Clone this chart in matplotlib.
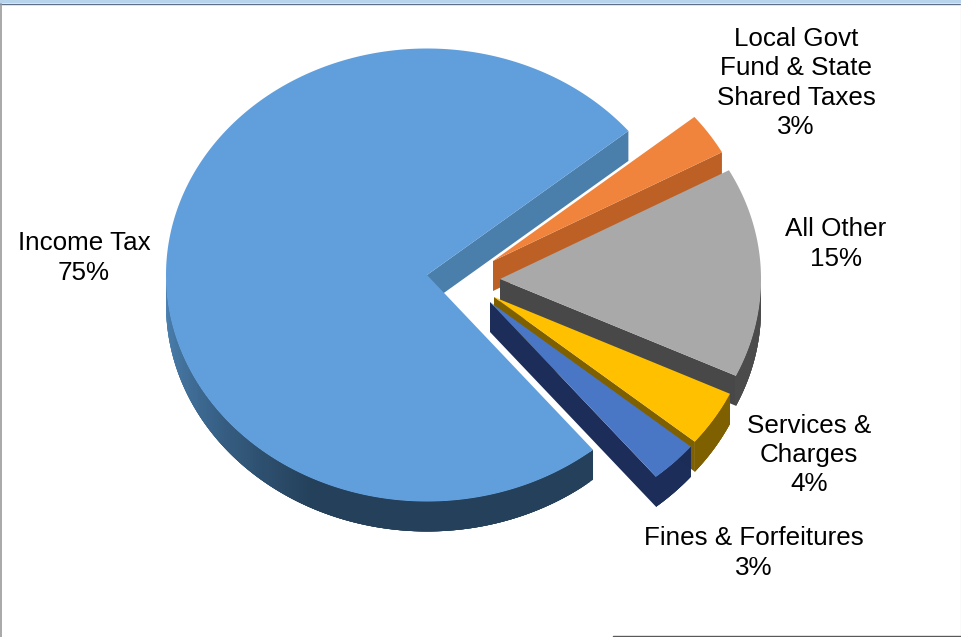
import numpy as np
import matplotlib.pyplot as plt
from matplotlib.colors import LinearSegmentedColormap
from matplotlib.patches import Polygon, Rectangle

plt.rcParams["font.family"] = "Liberation Sans"

labels = ["Income Tax", "Local Govt\nFund & State\nShared Taxes", "All Other", "Services &\nCharges", "Fines & Forfeitures"]
shares = [75, 3, 15, 4, 3]

top_colors = ["#619fdc", "#f0843c", "#a9a9a9", "#ffc000", "#4a76c6"]
edge_colors = ["#4a7eab", "#bd6026", "#484848", "#7f6000", "#1b2d58"]
side_colors = ["#24405a", "#bd6026", "#4b4b4b", "#7f6000", "#1b2d58"]

# how far each slice is pulled out of the pie, in pixels
offsets = [(0, 0), (66, -14), (73, 4), (67, 22), (63, 27)]
label_pos = [(84, 258), (796, 83), (836, 244), (809, 455), (754, 553)]

cx, cy = 427, 275
rx, ry = 261, 226.5
depth = 30
start_angle = 39.5

income_side = LinearSegmentedColormap.from_list("income_side", ["#4f86b8", "#3b668d", "#24405a"])


def rim(angles, ox, oy, drop=0):
    rad = np.radians(angles)
    return np.column_stack([cx + ox + rx * np.cos(rad), cy + oy - ry * np.sin(rad) + drop])


fig = plt.figure(figsize=(9.62, 6.37), dpi=100)
ax = fig.add_axes([0, 0, 1, 1])
ax.set_xlim(0, 962)
ax.set_ylim(637, 0)
ax.axis("off")

# slices run clockwise; income wraps round the back and ends at start_angle
sweeps = [s * 3.6 for s in shares]
spans = [(start_angle - 360 + sweeps[0], start_angle - 360)]
angle = start_angle
for sw in sweeps[1:]:
    spans.append((angle, angle - sw))
    angle -= sw

for i in range(len(shares)):
    a1, a2 = spans[i]
    ox, oy = offsets[i]
    apex = np.array([cx + ox, cy + oy])

    # radial wall on the clockwise side of the slice
    p = rim([a2], ox, oy)[0]
    if np.sin(np.radians(a2 - 90)) < 0:
        wall = [apex, p, p + [0, depth], apex + [0, depth]]
        ax.add_patch(Polygon(wall, closed=True, fc=edge_colors[i], ec="none"))

    # outer wall, only the part facing front; short overlapping pieces for the shading
    arc = np.linspace(a1, a2, 300)
    arc = arc[np.sin(np.radians(arc)) <= 0]
    if len(arc) > 1:
        top = rim(arc, ox, oy)
        bottom = rim(arc, ox, oy, depth)
        for j in range(len(arc) - 1):
            c = side_colors[i]
            k = min(j + 4, len(arc) - 1)
            if i == 0:
                c = income_side(np.clip((np.mod(arc[j], 360) - 180) / 65, 0, 1))
            quad = [top[j], top[k], bottom[k], bottom[j]]
            ax.add_patch(Polygon(quad, closed=True, fc=c, ec="none"))

    # top face
    face = np.vstack([apex, rim(np.linspace(a1, a2, 300), ox, oy)])
    ax.add_patch(Polygon(face, closed=True, fc=top_colors[i], ec="none"))

for name, share, (x, y) in zip(labels, shares, label_pos):
    ax.text(x, y, "%s\n%d%%" % (name, share), ha="center", va="center", ma="center",
            fontsize=18.7, color="black", linespacing=1.28)

# bits of the surrounding window
ax.add_patch(Rectangle((0, 0), 962, 3, fc="#b8d3ec", ec="none"))
ax.plot([0, 962], [3.5, 3.5], color="#5f6f85", lw=1)
ax.plot([0.5, 0.5], [4, 637], color="#9a9a9a", lw=1.2)
ax.plot([961.5, 961.5], [4, 635], color="#e8e8e8", lw=1)
ax.plot([613.5, 613.5, 962], [637, 635.5, 635.5], color="#5a5a5a", lw=1)

fig.savefig("out.png", dpi=100)
